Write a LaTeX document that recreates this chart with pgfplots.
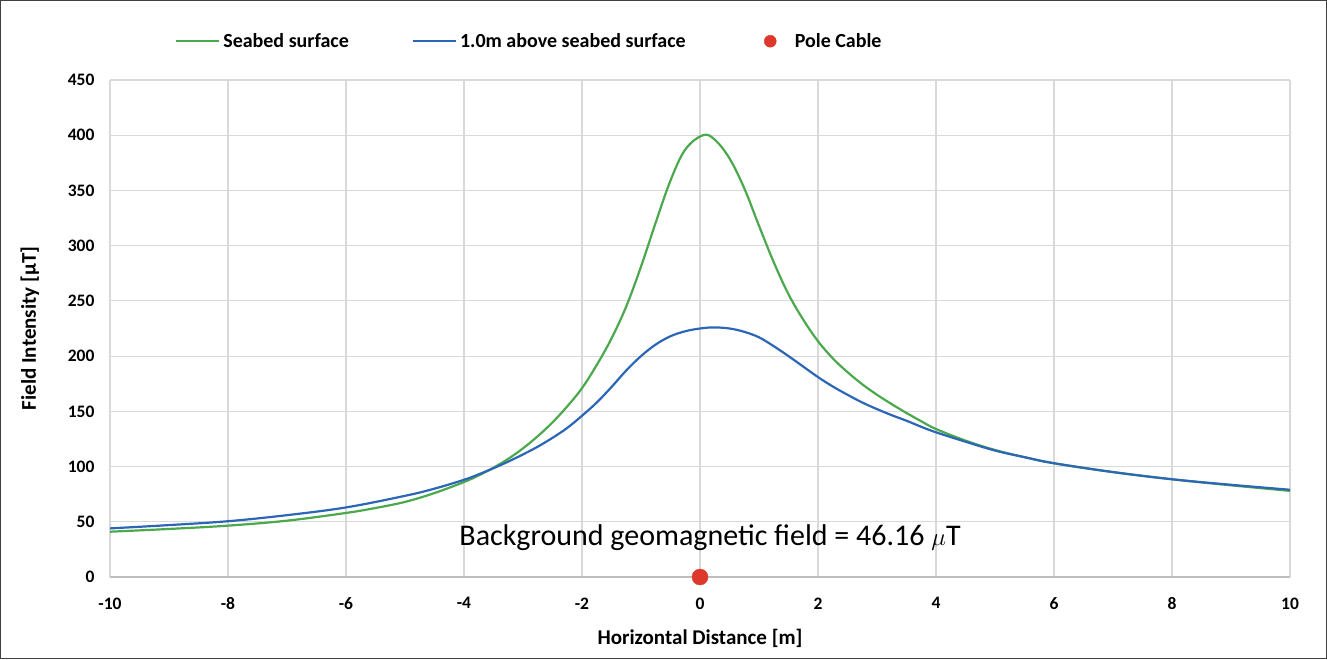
\documentclass[border=0pt]{standalone}
\usepackage{fontspec}
\setmainfont{Carlito}
\usepackage{pgfplots}
\pgfplotsset{compat=1.18}
\definecolor{cgreen}{RGB}{76,168,76}
\definecolor{cblue}{RGB}{44,102,182}
\definecolor{cred}{RGB}{222,56,44}
\definecolor{cgrid}{RGB}{217,217,217}
\definecolor{caxis}{RGB}{190,190,190}
\begin{document}
\begin{tikzpicture}[x=1pt,y=1pt]
\draw[black!75, line width=1.2pt] (0.6,0.6) rectangle (1326.4,658.4);
\begin{axis}[
  at={(110pt,82pt)}, anchor=south west,
  scale only axis, width=1180pt, height=497pt,
  xmin=-10, xmax=10, ymin=0, ymax=450,
  xtick={-10,-8,-6,-4,-2,0,2,4,6,8,10},
  xticklabels={{-10},{-8},{-6},{-4},{-2},{0},{2},{4},{6},{8},{10}},
  ytick={0,50,100,150,200,250,300,350,400,450},
  yticklabels={{0},{50},{100},{150},{200},{250},{300},{350},{400},{450}},
  grid=major,
  major grid style={draw=cgrid, line width=1.1pt},
  major tick length=0pt,
  axis x line*=bottom, axis y line*=left,
  x axis line style={draw=caxis, line width=1.6pt, -},
  y axis line style={draw=none},
  tick label style={font=\fontsize{17.5}{20}\selectfont\bfseries, text=black},
  xticklabel style={yshift=-17pt},
  yticklabel style={xshift=-12pt},
  every axis x label/.style={at={(axis description cs:0.5,-0.123)}, anchor=center},
  every axis y label/.style={at={(axis description cs:-0.068,0.5)}, rotate=90, anchor=center},
  label style={font=\fontsize{21}{24}\selectfont\bfseries},
  xlabel={Horizontal Distance [m]},
  ylabel={Field Intensity [μT]},
  clip=false,
  legend columns=3,
  legend style={draw=none, fill=none, at={(rel axis cs:0.055,1.078)}, anchor=west,
    inner sep=0pt, font=\fontsize{20}{23}\selectfont\bfseries,
    /tikz/every odd column/.append style={column sep=0pt},
    /tikz/every even column/.append style={column sep=60pt},
    nodes={inner xsep=3pt}},
  legend image code/.code={\draw[#1] (0pt,0pt) -- (43pt,0pt);},
]
\addplot[cgreen, line width=2.2pt, smooth, tension=0.6] coordinates {
(-10,41) (-9,43.5) (-8,46.5) (-7,51) (-6,58) (-5.5,62.5) (-5,68) (-4.5,76)
(-4,86) (-3.75,92) (-3.5,99) (-3.25,107) (-3,116.5) (-2.75,127.5) (-2.5,140)
(-2.25,154.5) (-2,171) (-1.75,192) (-1.5,216) (-1.25,245) (-1,281) (-0.75,321)
(-0.5,359) (-0.25,387) (0.05,400) (0.25,396) (0.5,379)
(0.75,352) (1,318) (1.25,285) (1.5,256) (1.75,233) (2,213.5) (2.25,198)
(2.5,185.5) (2.75,174.5) (3,165) (3.25,156.5) (3.5,148.5) (3.75,141) (4,134)
(4.5,123.5) (5,115) (5.5,108.5) (6,103) (7,95) (8,88.5) (9,83) (10,78)
};
\addlegendentry{Seabed surface}
\addplot[cblue, line width=2.2pt, smooth, tension=0.6] coordinates {
(-10,44) (-9,47) (-8,50.5) (-7,56) (-6,63) (-5,73.5) (-4.5,80) (-4,88)
(-3.75,93) (-3.5,98.5) (-3.25,104.5) (-3,111) (-2.75,118) (-2.5,126)
(-2.25,135) (-2,146) (-1.75,158) (-1.5,172) (-1.25,187) (-1,200) (-0.75,210.5)
(-0.5,218) (-0.25,222.5) (0,225) (0.23,226) (0.5,225) (0.75,222) (1,217)
(1.25,209) (1.5,200) (1.75,190.5) (2,181) (2.25,172.5) (2.5,165) (2.75,158)
(3,152) (3.25,146.5) (3.5,141.5) (3.75,136) (4,131) (4.5,122.5) (5,114.5)
(5.5,108.5) (6,103) (7,95) (8,88.5) (9,83.5) (10,79)
};
\addlegendentry{1.0m above seabed surface}
\addplot[only marks, mark=*, mark size=8pt, draw=cred, fill=cred,
  legend image code/.code={\path[draw=none,fill=none] (0pt,0pt) -- (43pt,0pt); \fill[cred] (21.5pt,0pt) circle (6pt);}] coordinates {(0,0)};
\addlegendentry{Pole Cable}
\node[font=\fontsize{30}{34}\selectfont, anchor=center] at (axis cs:0.17,36)
  {Background geomagnetic field = 46.16 $\mu$T};
\end{axis}
\end{tikzpicture}
\end{document}
